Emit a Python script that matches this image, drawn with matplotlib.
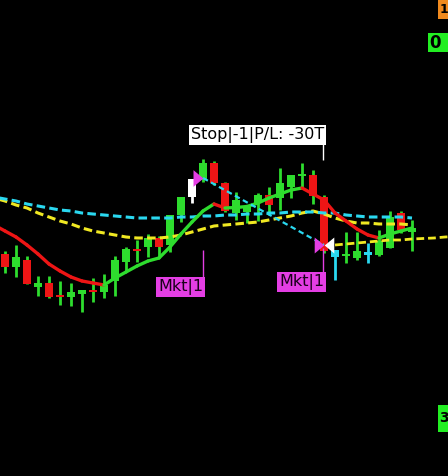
import matplotlib
matplotlib.use("Agg")
import matplotlib.pyplot as plt
import numpy as np
from matplotlib.collections import LineCollection
from matplotlib.path import Path
from matplotlib.patches import Rectangle

# ---------------- data ----------------
opens = [222, 209, 216, 189, 193, 181, 179, 182, 186, 184,
         195, 214, 227, 229, 238, 231, 261, 279, 296, 313,
         293, 263, 264, 273, 281, 278, 289, 300, 301, 279,
         226, 220, 218, 224, 221, 228, 263, 244]
highs = [225, 231, 220, 200, 200, 195, 193, 186, 198, 202,
         220, 229, 236, 242, 240, 261, 279, 297, 317, 315,
         294, 284, 271, 283, 289, 308, 301, 313, 306, 281,
         226, 244, 244, 233, 246, 265, 265, 256]
lows = [203, 199, 192, 180, 178, 171, 170, 164, 174, 178,
        180, 204, 214, 219, 219, 224, 254, 273, 294, 291,
        264, 256, 253, 255, 261, 266, 278, 288, 272, 223,
        196, 213, 216, 213, 220, 228, 243, 225]
closes = [209, 219, 192, 193, 179, 179, 184, 186, 184, 191,
          216, 227, 225, 238, 229, 261, 279, 297, 313, 293,
          265, 276, 269, 281, 271, 293, 301, 302, 280, 225,
          219, 222, 225, 221, 235, 259, 246, 248]
cyan_bars = [30, 33]
white_bars = [17]

# averages start one bar before the first visible candle (bar index -1)
ma_start = -1
fast_ma = [251, 245, 239, 231, 222, 212, 205, 199, 195, 193, 191,
           198, 204, 210, 215, 218, 229, 242, 254, 265, 272,
           268, 268.5, 269.5, 273, 278, 282, 286, 288, 282, 276,
           263, 255, 247, 241, 238, 242, 245, 248]
slow_cyan = [279, 277, 275, 272, 270, 268, 266, 265, 263, 262, 261,
             260, 259, 258, 258, 258, 258, 259, 259, 260, 260,
             261, 261, 262, 262, 263, 263, 264, 264, 264, 263,
             263, 261, 260, 259, 259, 259, 259, 258]
slow_yellow = [278, 275, 271, 268, 263, 259, 255, 252, 248, 245, 243,
               241, 239, 238, 238, 238, 239, 241, 244, 247, 250,
               251, 252, 253, 254, 256, 258, 260, 263, 265, 262,
               258, 255, 253, 253, 252, 252, 252, 251]
proj_start = 30
proj_yellow = [231, 232, 233, 234, 235, 236, 236, 237, 237.5, 238, 239, 239.5]

entry_bar, entry_price = 18, 298
exit_bar, exit_price = 29, 231
entry_label = "Mkt|1"
exit_label = "Mkt|1"
stop_label = "Stop|-1|P/L: -30T"
tag_labels = ["1", "0", "3"]

# ---------------- style ----------------
BG = "black"
GREEN = "#2edc2e"
RED = "#ee1515"
CYAN = "#2ad8f0"
YELLOW = "#f0e822"
MAGENTA = "#e43ee4"

fig = plt.figure(figsize=(4.48, 4.76), dpi=100, facecolor=BG)
ax = fig.add_axes([0, 0, 1, 1])
ax.set_facecolor(BG)
ax.set_axis_off()
ax.set_xlim(-5 / 11, 443 / 11)
ax.set_ylim(0, 476)

n = len(opens)
x = np.arange(n)
o = np.array(opens, float)
c = np.array(closes, float)
h = np.array(highs, float)
l = np.array(lows, float)

body_col = []
wick_col = []
for i in range(n):
    if i in cyan_bars:
        body_col.append(CYAN); wick_col.append(CYAN)
    elif i in white_bars:
        body_col.append("white"); wick_col.append("white")
    else:
        body_col.append(RED if c[i] < o[i] else GREEN)
        wick_col.append(GREEN)

ax.vlines(x, l, h, colors=wick_col, linewidth=2.0, zorder=2)
bottoms = np.minimum(o, c)
heights = np.maximum(np.abs(c - o), 1.5)
ax.bar(x, heights, bottom=bottoms, width=0.64, color=body_col,
       edgecolor="none", zorder=3)

# slow averages
mx = np.arange(ma_start, ma_start + len(fast_ma))
ax.plot(mx, slow_yellow, color=YELLOW, lw=2.2, dashes=(2.8, 1.4), zorder=4)
ax.plot(mx, slow_cyan, color=CYAN, lw=2.2, dashes=(2.8, 1.4), zorder=4)
px = np.arange(proj_start, proj_start + len(proj_yellow))
ax.plot(px, proj_yellow, color=YELLOW, lw=2.0, dashes=(2.8, 1.4), zorder=4)

# fast average colored by slope
fm = np.array(fast_ma, float)
segs = [[(mx[i], fm[i]), (mx[i + 1], fm[i + 1])] for i in range(len(fm) - 1)]
cols = [RED if fm[i + 1] < fm[i] else GREEN for i in range(len(fm) - 1)]
lc = LineCollection(segs, colors=cols, linewidths=2.4, capstyle="round", zorder=5)
ax.add_collection(lc)

# trade line
ax.plot([entry_bar, exit_bar], [entry_price, exit_price], color=CYAN, lw=1.6,
        dashes=(2.5, 1.6), zorder=6)

# trade markers
right_tri = Path([(-0.6, -1.0), (0.6, 0.0), (-0.6, 1.0), (-0.6, -1.0)])
left_tri = Path([(0.6, -1.0), (-0.6, 0.0), (0.6, 1.0), (0.6, -1.0)])
ax.plot([entry_bar - 0.45], [entry_price], marker=right_tri, ms=12, color=MAGENTA,
        mec="none", zorder=7)
ax.plot([exit_bar - 0.45], [exit_price], marker=right_tri, ms=11.5, color=MAGENTA,
        mec="none", zorder=7)
ax.plot([exit_bar + 0.45], [exit_price], marker=left_tri, ms=11.5, color="white",
        mec="none", zorder=7)

# labels
FS = 11.5
ax.vlines(entry_bar, 198, 226, colors=MAGENTA, lw=1.0, zorder=6)
ax.text(entry_bar + 0.02, 197, entry_label, ha="right", va="top", fontsize=FS,
        color="#1a001a", zorder=8,
        bbox=dict(boxstyle="square,pad=0.1", fc=MAGENTA, ec="none"))
ax.vlines(exit_bar - 0.1, 204, 228, colors=MAGENTA, lw=1.0, zorder=6)
ax.text(exit_bar + 0.02, 202, exit_label, ha="right", va="top", fontsize=FS,
        color="#1a001a", zorder=8,
        bbox=dict(boxstyle="square,pad=0.1", fc=MAGENTA, ec="none"))
ax.vlines(exit_bar - 0.1, 316, 333, colors="white", lw=1.0, zorder=6)
ax.text(exit_bar + 0.02, 333, stop_label, ha="right", va="bottom", fontsize=FS,
        color="black", zorder=8,
        bbox=dict(boxstyle="square,pad=0.1", fc="white", ec="none"))

# price-axis tags at the right edge (pixel coordinates from top-left)
tags = [(tag_labels[0], 438, 0, 19, "#f08a1e", 9),
        (tag_labels[1], 428, 33, 52, "#22ee22", 12),
        (tag_labels[2], 438, 405, 432, "#22ee22", 10)]
for txt, x0, y0, y1, col, fs in tags:
    fig.patches.append(Rectangle((x0 / 448, 1 - y1 / 476), 30 / 448, (y1 - y0) / 476,
                                 transform=fig.transFigure, fc=col, ec="none"))
    fig.text((x0 + 1.5) / 448, 1 - (y0 + y1) / 2 / 476, txt, ha="left", va="center",
             fontsize=fs, fontweight="bold", color="black")

fig.savefig("out.png", dpi=100, facecolor=BG)
